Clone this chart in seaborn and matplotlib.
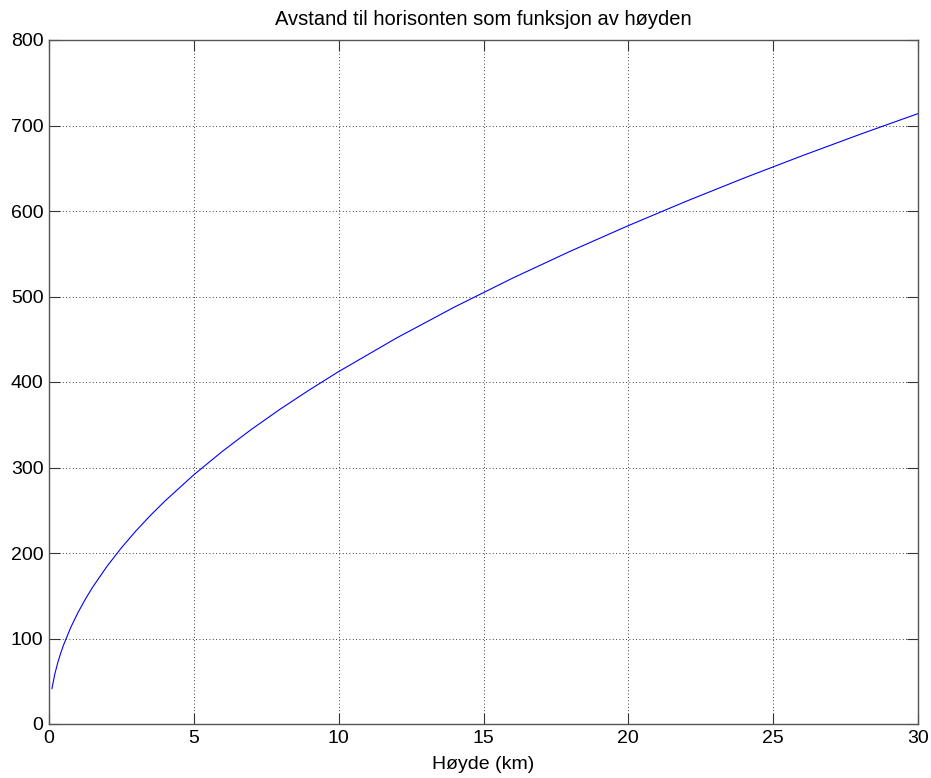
import matplotlib
matplotlib.use("Agg")
import matplotlib.pyplot as plt
import seaborn as sns
import pandas as pd

# Values
hoyde_km = [0.1, 0.2, 0.3, 0.4, 0.5, 0.75, 1.0, 1.25, 1.5, 2.0, 2.5, 3.0, 3.5, 4.0,
            5.0, 6.0, 7.0, 8.0, 9.0, 10.0, 12.0, 14.0, 16.0, 18.0, 20.0, 22.0,
            24.0, 26.0, 28.0, 30.0]
avstand_km = [41.2, 58.3, 71.4, 82.4, 92.2, 112.9, 130.3, 145.7, 159.7, 184.3,
              206.1, 225.8, 243.9, 260.7, 291.5, 319.3, 344.9, 368.7, 391.0,
              412.2, 451.5, 487.7, 521.4, 553.0, 582.9, 611.4, 638.6, 664.6,
              689.7, 713.9]
x_ticks = [0, 5, 10, 15, 20, 25, 30]
y_ticks = [0, 100, 200, 300, 400, 500, 600, 700, 800]
title = "Avstand til horisonten som funksjon av høyden"
xlabel = "Høyde (km)"

df = pd.DataFrame({"h": hoyde_km, "d": avstand_km})

sns.set_style("ticks")
plt.rcParams["font.family"] = ["Liberation Sans", "DejaVu Sans"]
plt.rcParams["text.color"] = "black"
plt.rcParams["axes.labelcolor"] = "black"

fig = plt.figure(figsize=(9.31, 7.78), dpi=100)
ax = fig.add_axes([49 / 931, 1 - 724 / 778, (918 - 49) / 931, (724 - 40) / 778])

sns.lineplot(data=df, x="h", y="d", ax=ax, color="#0000ff", linewidth=0.8)

ax.set_xlim(0, 30)
ax.set_ylim(0, 800)
ax.set_xticks(x_ticks)
ax.set_yticks(y_ticks)
ax.grid(True, linestyle=(0, (1, 3)), color="black", linewidth=0.6)
ax.tick_params(direction="in", length=8, width=0.8, top=True, right=True,
               labelsize=14, colors="#333333", labelcolor="black", pad=4)
for s in ax.spines.values():
    s.set_visible(True)
    s.set_color("#555555")
    s.set_linewidth(1.0)

ax.set_title(title, fontsize=14.5, pad=11, color="black")
ax.set_xlabel(xlabel, fontsize=14, labelpad=7, color="black")
ax.set_ylabel("")

fig.savefig("out.png", dpi=100)
